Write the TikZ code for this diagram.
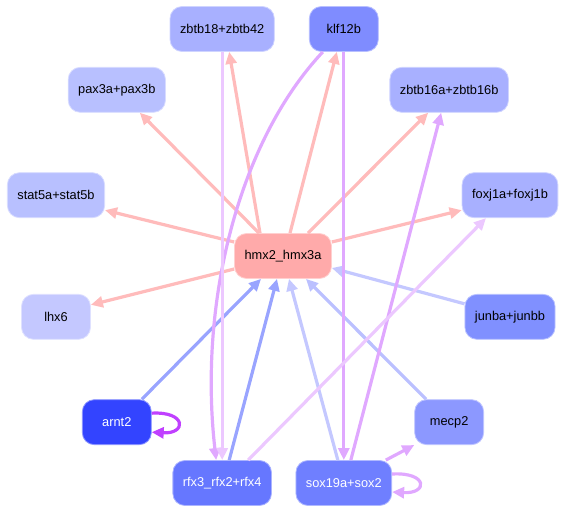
\documentclass[tikz,border=0pt]{standalone}
\usepackage{fontspec}
\setmainfont{Liberation Sans}
\usepackage{tikz}
\usetikzlibrary{arrows.meta, positioning, calc}

\definecolor{hubfill}{HTML}{FFAAAA}
\definecolor{tfA}{HTML}{A8B0FF}
\definecolor{tfB}{HTML}{7F8CFF}
\definecolor{tfC}{HTML}{B8C0FF}
\definecolor{tfD}{HTML}{C4C8FF}
\definecolor{tfE}{HTML}{8090FF}
\definecolor{tfF}{HTML}{3344FF}
\definecolor{tfG}{HTML}{8C98FF}
\definecolor{tfH}{HTML}{6677FF}
\definecolor{tfI}{HTML}{6F7FFF}
\definecolor{outpink}{HTML}{FFBBBB}
\definecolor{inblue}{HTML}{99A4FF}
\definecolor{inpale}{HTML}{C4C8FF}
\definecolor{inmid}{HTML}{BBC0FF}
\definecolor{purp}{HTML}{E0A8FF}
\definecolor{purplight}{HTML}{ECC8FF}
\definecolor{purpdark}{HTML}{C040FF}

\begin{document}
\begin{tikzpicture}[
    x=1pt, y=1pt,
    tfbox/.style={draw=#1!55!white, fill=#1, line width=0.8pt, rounded corners=12pt, minimum width=69pt, minimum height=45pt, inner xsep=10pt, font=\fontsize{12.8}{15}\selectfont},
    hubbox/.style={tfbox=hubfill},
    lightlabel/.style={text=white},
    regedge/.style={line width=3.2pt, draw=#1, -{Triangle[length=12pt,width=11pt]}}
]
\useasboundingbox (-283,-256) rectangle (283,256);

% Hub in the middle
\node[hubbox] (hmx) at (0,0) {hmx2\_hmx3a};

% Ring of factors, 30 degrees apart (top half)
\node[tfbox=tfB] (klf) at (75:235) {klf12b};
\node[tfbox=tfA] (zbtb18) at (105:235) {zbtb18+zbtb42};
\node[tfbox=tfC] (pax) at (135:235) {pax3a+pax3b};
\node[tfbox=tfC] (stat) at (165:235) {stat5a+stat5b};
\node[tfbox=tfA] (foxj) at (15:235) {foxj1a+foxj1b};
\node[tfbox=tfA] (zbtb16) at (45:235) {zbtb16a+zbtb16b};

% Ring of factors (bottom half)
\node[tfbox=tfD] (lhx) at (195:235) {lhx6};
\node[tfbox=tfF, lightlabel] (arnt) at (225:235) {arnt2};
\node[tfbox=tfH, lightlabel] (rfx) at (255:235) {rfx3\_rfx2+rfx4};
\node[tfbox=tfI, lightlabel] (sox) at (285:235) {sox19a+sox2};
\node[tfbox=tfG] (mecp) at (315:235) {mecp2};
\node[tfbox=tfE] (junb) at (345:235) {junba+junbb};

% Targets of the hub
\draw[regedge=outpink] ([xshift=-23pt]hmx.north) -- ([xshift=7pt]zbtb18.south);
\draw[regedge=outpink] ([xshift=7pt]hmx.north) -- ([xshift=-7pt]klf.south);
\draw[regedge=outpink] ([xshift=-24pt]hmx.north) -- ([xshift=23pt]pax.south);
\draw[regedge=outpink] ([xshift=25pt]hmx.north) -- ([xshift=-21pt]zbtb16.south);
\draw[regedge=outpink] ([yshift=14pt]hmx.west) -- ([yshift=-15pt]stat.east);
\draw[regedge=outpink] ([yshift=14pt]hmx.east) -- ([yshift=-15pt]foxj.west);
\draw[regedge=outpink] ([yshift=-13pt]hmx.west) -- ([yshift=12pt]lhx.east);

% Regulators of the hub
\draw[regedge=inblue] ([xshift=25pt]arnt.north) -- ([xshift=-22pt]hmx.south);
\draw[regedge=inblue] ([xshift=7pt]rfx.north) -- ([xshift=-6pt]hmx.south);
\draw[regedge=inpale] ([xshift=-6pt]sox.north) -- ([xshift=6pt]hmx.south);
\draw[regedge=inmid] ([xshift=-23pt]mecp.north) -- ([xshift=23pt]hmx.south);
\draw[regedge=inpale] ([yshift=13pt]junb.west) -- ([yshift=-12pt]hmx.east);

% Other links around the ring
\draw[regedge=purp] ([xshift=-21pt]klf.south) .. controls (-43,116) and (-85,-44) .. ([xshift=-6pt]rfx.north);
\draw[regedge=purplight] (zbtb18.south) -- (rfx.north);
\draw[regedge=purp] (klf.south) -- (sox.north);
\draw[regedge=purp] ([xshift=7pt]sox.north) -- ([xshift=-8pt]zbtb16.south);
\draw[regedge=purplight] ([xshift=26pt]rfx.north) -- ([xshift=-24pt]foxj.south);
\draw[regedge=purp] ([xshift=42pt]sox.north) -- (mecp.south west);

% Self loops
\draw[regedge=purpdark] ([yshift=9pt]arnt.east) .. controls +(35,2) and +(35,-2) .. ([yshift=-10pt]arnt.east);
\draw[regedge=purp] ([yshift=9pt]sox.east) .. controls +(36,2) and +(36,-2) .. ([yshift=-9pt]sox.east);

\end{tikzpicture}
\end{document}
